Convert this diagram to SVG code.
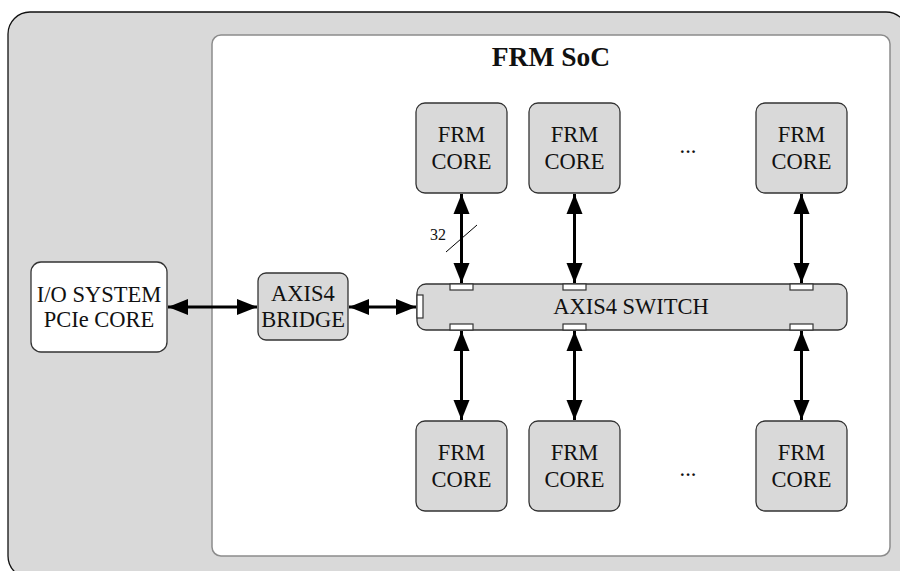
<svg xmlns="http://www.w3.org/2000/svg" width="900" height="571" viewBox="0 0 900 571">
  <style>
    .lbl { font-family: "Liberation Serif", "DejaVu Serif", "Noto Serif", serif; font-size: 22.5px; fill: #111; text-anchor: middle; }
    .small { font-family: "Liberation Serif", "DejaVu Serif", "Noto Serif", serif; font-size: 16px; fill: #111; text-anchor: middle; }
    .title { font-family: "Liberation Serif", "DejaVu Serif", "Noto Serif", serif; font-size: 27.5px; font-weight: bold; fill: #111; text-anchor: middle; }
    .gray { fill: #d9d9d9; stroke: #333; stroke-width: 1.3; }
    .white { fill: #ffffff; stroke: #333; stroke-width: 1.3; }
    .port { fill: #ffffff; stroke: #333; stroke-width: 1.2; }
    .link { stroke: #000; stroke-width: 3; fill: none; marker-start: url(#head); marker-end: url(#head); }
  </style>
  <defs>
    <marker id="head" viewBox="0 0 10 8" refX="10" refY="4" markerWidth="6.7" markerHeight="5.4" orient="auto-start-reverse" markerUnits="strokeWidth">
      <path d="M0,0 L10,4 L0,8 z" fill="#000"/>
    </marker>
  </defs>

  <!-- host system background -->
  <rect x="8" y="12" width="900" height="566" rx="22" fill="#d9d9d9" stroke="#111" stroke-width="1.3"/>
  <!-- SoC area -->
  <rect x="212" y="35" width="678" height="521" rx="9" fill="#ffffff" stroke="#8c8c8c" stroke-width="1.5"/>
  <text class="title" x="551" y="66">FRM SoC</text>

  <g id="connectors">
    <line class="link" x1="168" y1="307" x2="257" y2="307"/>
    <line class="link" x1="349" y1="307" x2="416" y2="307"/>
    <line class="link" x1="461.5" y1="194" x2="461.5" y2="283"/>
    <line class="link" x1="574.5" y1="194" x2="574.5" y2="283"/>
    <line class="link" x1="801.5" y1="194" x2="801.5" y2="283"/>
    <line class="link" x1="461.5" y1="331" x2="461.5" y2="420"/>
    <line class="link" x1="574.5" y1="331" x2="574.5" y2="420"/>
    <line class="link" x1="801.5" y1="331" x2="801.5" y2="420"/>
    <!-- bus width mark -->
    <line x1="446" y1="252" x2="477" y2="225" stroke="#000" stroke-width="1"/>
    <text class="small" x="438" y="240">32</text>
  </g>

  <g id="io">
    <rect class="white" x="31" y="262" width="136" height="90" rx="10"/>
    <text class="lbl" x="99" y="302">I/O SYSTEM</text>
    <text class="lbl" x="99" y="327">PCIe CORE</text>
  </g>

  <g id="bridge">
    <rect class="gray" x="258" y="273" width="90" height="67" rx="8"/>
    <text class="lbl" x="303" y="301">AXIS4</text>
    <text class="lbl" x="303" y="327">BRIDGE</text>
  </g>

  <g id="switch">
    <rect class="gray" x="417" y="284" width="430" height="46" rx="9"/>
    <text class="lbl" x="631" y="314">AXIS4 SWITCH</text>
    <rect class="port" x="417" y="295" width="6" height="23"/>
    <rect class="port" x="450" y="284" width="23" height="6"/>
    <rect class="port" x="563" y="284" width="23" height="6"/>
    <rect class="port" x="790" y="284" width="23" height="6"/>
    <rect class="port" x="450" y="324" width="23" height="6"/>
    <rect class="port" x="563" y="324" width="23" height="6"/>
    <rect class="port" x="790" y="324" width="23" height="6"/>
  </g>

  <g id="core-t1">
    <rect class="gray" x="416" y="103" width="91" height="90" rx="9"/>
    <text class="lbl" x="461.5" y="142">FRM</text>
    <text class="lbl" x="461.5" y="169">CORE</text>
  </g>
  <g id="core-t2">
    <rect class="gray" x="529" y="103" width="91" height="90" rx="9"/>
    <text class="lbl" x="574.5" y="142">FRM</text>
    <text class="lbl" x="574.5" y="169">CORE</text>
  </g>
  <text class="lbl" x="688" y="153">...</text>
  <g id="core-tn">
    <rect class="gray" x="756" y="103" width="91" height="90" rx="9"/>
    <text class="lbl" x="801.5" y="142">FRM</text>
    <text class="lbl" x="801.5" y="169">CORE</text>
  </g>

  <g id="core-b1">
    <rect class="gray" x="416" y="421" width="91" height="90" rx="9"/>
    <text class="lbl" x="461.5" y="460">FRM</text>
    <text class="lbl" x="461.5" y="487">CORE</text>
  </g>
  <g id="core-b2">
    <rect class="gray" x="529" y="421" width="91" height="90" rx="9"/>
    <text class="lbl" x="574.5" y="460">FRM</text>
    <text class="lbl" x="574.5" y="487">CORE</text>
  </g>
  <text class="lbl" x="688" y="476">...</text>
  <g id="core-bn">
    <rect class="gray" x="756" y="421" width="91" height="90" rx="9"/>
    <text class="lbl" x="801.5" y="460">FRM</text>
    <text class="lbl" x="801.5" y="487">CORE</text>
  </g>
</svg>
